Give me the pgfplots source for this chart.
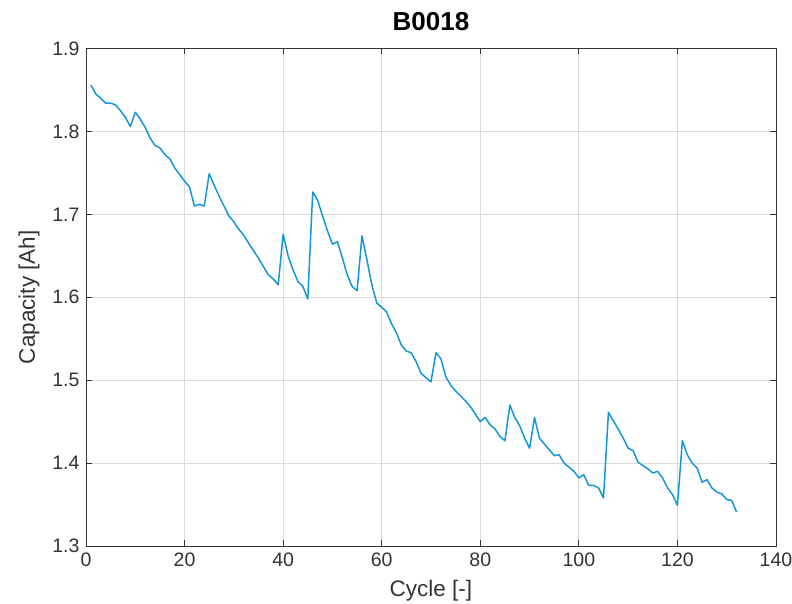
\documentclass[border=0pt]{standalone}
\usepackage{pgfplots}
\pgfplotsset{compat=1.18}
\usepackage{fontspec}
\setmainfont{Liberation Sans}
\definecolor{mblue}{RGB}{20,150,215}
\definecolor{mgray}{gray}{0.2}
\definecolor{mgrid}{gray}{0.86}
\begin{document}
\begin{tikzpicture}
\useasboundingbox (-86pt,-58pt) rectangle (706pt,546pt);
\begin{axis}[
  at={(0,0)}, anchor=south west,
  scale only axis, width=690pt, height=497.5pt,
  xmin=0, xmax=140, ymin=1.3, ymax=1.9,
  xtick={0,20,...,140}, ytick={1.3,1.4,...,1.9},
  tick align=inside, major tick length=6pt,
  xtick pos=both, ytick pos=both,
  axis line style={mgray, line width=0.8pt},
  every tick/.style={mgray, line width=0.8pt},
  grid=major, major grid style={mgrid, line width=0.8pt},
  /pgf/number format/assume math mode=true,
  ticklabel style={font=\fontsize{19.5}{19.5}\selectfont, text=mgray},
  xticklabel style={yshift=-3pt},
  yticklabel style={xshift=-3pt, /pgf/number format/fixed, /pgf/number format/precision=1, /pgf/number format/fixed zerofill},
  xlabel={Cycle [-]}, ylabel={Capacity [Ah]},
  xlabel style={at={([yshift=-51pt]axis description cs:0.5,0)}, anchor=base, font=\fontsize{22.5}{22.5}\selectfont, text=mgray},
  ylabel style={at={([xshift=-51pt]axis description cs:0,0.5)}, anchor=base, rotate=0, font=\fontsize{22.5}{22.5}\selectfont, text=mgray},
  title={B0018},
  title style={at={([yshift=12pt]axis description cs:0.5,1)}, anchor=base, font=\bfseries\fontsize{26}{26}\selectfont},
]
\addplot[mblue, line width=1.5pt, line join=round] table {
x y
1 1.856
2 1.845
3 1.840
4 1.834
5 1.834
6 1.832
7 1.825
8 1.817
9 1.806
10 1.823
11 1.815
12 1.805
13 1.792
14 1.783
15 1.780
16 1.772
17 1.767
18 1.756
19 1.748
20 1.740
21 1.733
22 1.710
23 1.712
24 1.710
25 1.749
26 1.735
27 1.722
28 1.710
29 1.698
30 1.691
31 1.682
32 1.675
33 1.665
34 1.656
35 1.647
36 1.637
37 1.627
38 1.622
39 1.615
40 1.676
41 1.650
42 1.633
43 1.619
44 1.613
45 1.598
46 1.727
47 1.717
48 1.698
49 1.680
50 1.664
51 1.667
52 1.648
53 1.627
54 1.613
55 1.608
56 1.674
57 1.645
58 1.615
59 1.593
60 1.588
61 1.582
62 1.568
63 1.557
64 1.542
65 1.535
66 1.533
67 1.522
68 1.508
69 1.503
70 1.498
71 1.533
72 1.526
73 1.504
74 1.494
75 1.487
76 1.481
77 1.475
78 1.468
79 1.459
80 1.450
81 1.455
82 1.446
83 1.441
84 1.432
85 1.427
86 1.470
87 1.455
88 1.445
89 1.430
90 1.418
91 1.455
92 1.430
93 1.423
94 1.416
95 1.409
96 1.410
97 1.400
98 1.395
99 1.390
100 1.382
101 1.386
102 1.373
103 1.373
104 1.370
105 1.358
106 1.461
107 1.451
108 1.441
109 1.430
110 1.418
111 1.415
112 1.401
113 1.397
114 1.393
115 1.388
116 1.390
117 1.382
118 1.370
119 1.362
120 1.349
121 1.427
122 1.410
123 1.400
124 1.394
125 1.377
126 1.380
127 1.370
128 1.365
129 1.363
130 1.356
131 1.355
132 1.341
};
\end{axis}
\end{tikzpicture}
\end{document}
